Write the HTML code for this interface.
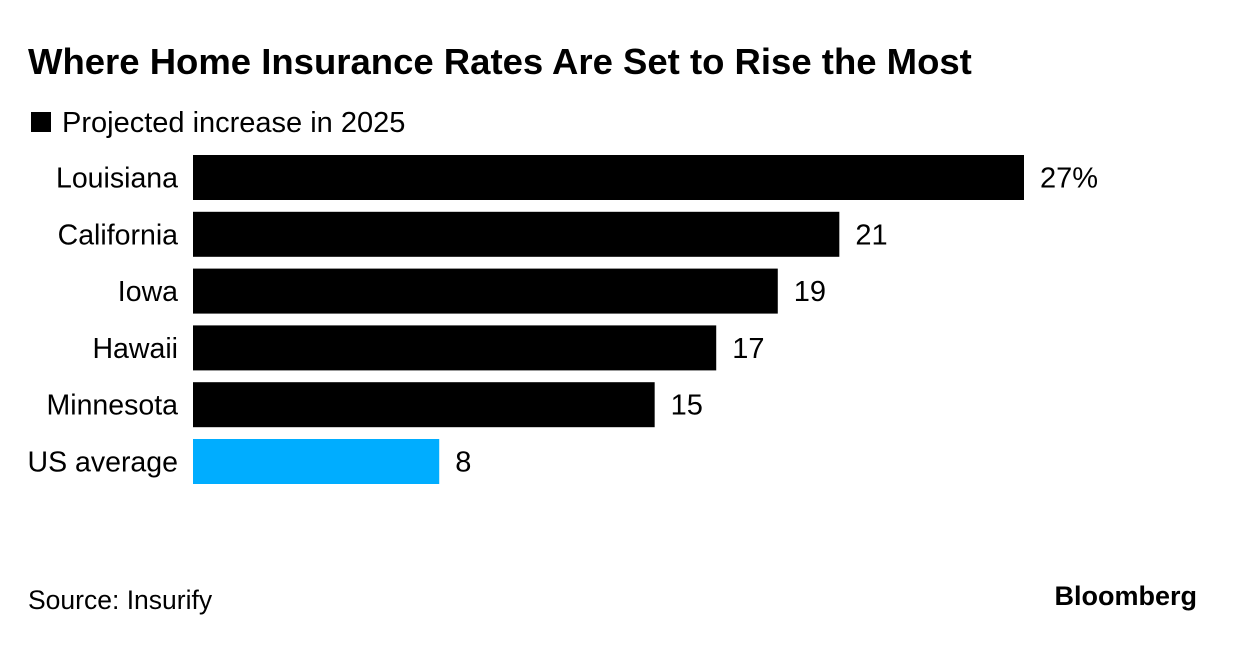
<!DOCTYPE html>
<html><head><meta charset="utf-8"><style>
body{margin:0;width:1236px;height:640px;background:#fff;font-family:"Liberation Sans",Arial,sans-serif;overflow:hidden}
</style></head><body>
<svg width="1236" height="640">
<text x="28" y="74" font-size="36.5" font-weight="bold" fill="#000">Where Home Insurance Rates Are Set to Rise the Most</text>
<rect x="31" y="112" width="20" height="20" fill="#000"/>
<text x="62" y="132" font-size="29" fill="#000">Projected increase in 2025</text>
<g id="bars"></g>
<text x="28" y="609" font-size="26.5" fill="#000">Source: Insurify</text>
<text x="1197" y="605" font-size="27" font-weight="bold" text-anchor="end" fill="#000">Bloomberg</text>
</svg>
<script>
const categories=["Louisiana","California","Iowa","Hawaii","Minnesota","US average"];
const values=[27,21,19,17,15,8];
const valueLabels=["27%","21","19","17","15","8"];
const colors=["#000","#000","#000","#000","#000","#00adff"];
const ns="http://www.w3.org/2000/svg";
const g=document.getElementById('bars');
const x0=193,scale=(1024-193)/27,y0=155,pitch=56.8,bh=45;
const xs=v=>x0+v*scale;
categories.forEach((c,i)=>{
 const y=y0+i*pitch;
 const r=document.createElementNS(ns,'rect');
 r.setAttribute('x',x0);r.setAttribute('y',y);r.setAttribute('width',xs(values[i])-x0);r.setAttribute('height',bh);r.setAttribute('fill',colors[i]);
 
 
 g.appendChild(r);
 const t=document.createElementNS(ns,'text');
 t.setAttribute('x',178);t.setAttribute('y',y+bh/2+10);t.setAttribute('text-anchor','end');t.setAttribute('font-size','28.5');
 t.textContent=c;
 
 
 g.appendChild(t);
 const v=document.createElementNS(ns,'text');
 v.setAttribute('x',xs(values[i])+16);v.setAttribute('y',y+bh/2+10);v.setAttribute('font-size','29');
 v.textContent=valueLabels[i];
 
 
 g.appendChild(v);
});
</script>
</body></html>
